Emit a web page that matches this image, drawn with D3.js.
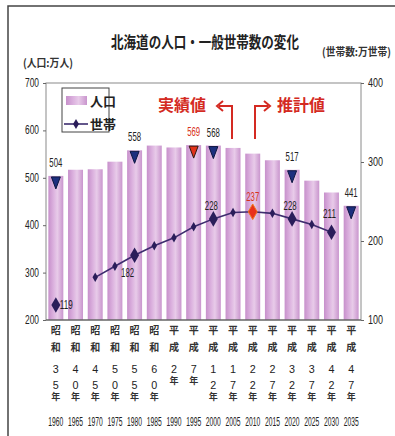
<!DOCTYPE html>
<html><head><meta charset="utf-8">
<script src="https://cdn.jsdelivr.net/npm/d3@7/dist/d3.min.js"></script>
<style>
body{margin:0;background:#fff;}
svg{display:block;}
</style></head>
<body><svg id="c" width="395" height="436"></svg>
<script>
// ---- data ----
const years = [1960,1965,1970,1975,1980,1985,1990,1995,2000,2005,2010,2015,2020,2025,2030,2035];
const population = [504,517,518,534,558,568,564,569,568,563,551,537,517,494,469,441];
const households = [119,null,154,168,182,194,204,218,228,236,237,235,228,221,211,null];
const eraNames = ['昭和','昭和','昭和','昭和','昭和','昭和','平成','平成','平成','平成','平成','平成','平成','平成','平成','平成'];
const eraYears = ['35','40','45','50','55','60','2','7','12','17','22','27','32','37','42','47'];
const popMarkYears = [1960,1980,1995,2000,2020,2035];
const popRedYear = 1995;
const hhBigYears = [1960,1980,2000,2010,2020,2030];
const hhLabelYears = [1960,1980,2000,2010,2020,2030];
const hhRedYear = 2010;
const leftTicks = [200,300,400,500,600,700];
const rightTicks = [100,200,300,400];

// ---- setup ----
const svg = d3.select('#c');
const NUM = '"Liberation Sans Narrow","Liberation Sans","DejaVu Sans Condensed",sans-serif';
const CJK = '"Noto Sans CJK JP","Noto Sans CJK SC",sans-serif';
const L = 46, R = 361, T = 83, B = 320;
const x = d3.scaleBand().domain(years).range([L, R]).paddingInner(0.24).paddingOuter(0.12);
const yL = d3.scaleLinear().domain([200,700]).range([B, T]);
const yR = d3.scaleLinear().domain([100,400]).range([B, T]);
const cx = d => x(d) + x.bandwidth()/2;

// condensed text helper: squeezes text horizontally to a target width
function ctext(parent, px, py, str, opt) {
  const t = parent.append('text').attr('font-family', opt.font || NUM).attr('font-size', opt.size || 12)
    .attr('font-weight', opt.weight || 'normal').attr('fill', opt.fill || '#222')
    .attr('text-anchor', opt.anchor || 'start').text(str);
  const len = t.node().getComputedTextLength() || 1;
  const s = Math.min(1, opt.width / len);
  t.attr('transform', `translate(${px},${py}) scale(${s},1)`);
  return t;
}

// outer frame
svg.append('path').attr('d','M8,436 L8,6 L395,6').attr('fill','none').attr('stroke','#444').attr('stroke-width',1.5);

// gradient
const defs = svg.append('defs');
const g = defs.append('linearGradient').attr('id','bar').attr('x1','0').attr('x2','1').attr('y1','0').attr('y2','0');
g.append('stop').attr('offset','0').attr('stop-color','#c790cb');
g.append('stop').attr('offset','0.35').attr('stop-color','#dcb2df');
g.append('stop').attr('offset','0.6').attr('stop-color','#e8cbe9');
g.append('stop').attr('offset','1').attr('stop-color','#c995cd');

// titles
ctext(svg, 205, 48, '北海道の人口・一般世帯数の変化', {font:CJK, size:16, weight:'bold', width:188, anchor:'middle'});
ctext(svg, 23, 67, '(人口:万人)', {font:CJK, size:11, weight:'bold', width:50, fill:'#333'});
ctext(svg, 322, 56, '(世帯数:万世帯)', {font:CJK, size:11, weight:'bold', width:69, fill:'#333'});

// bars
svg.append('g').selectAll('rect').data(years).join('rect')
  .attr('x', d => x(d)).attr('width', x.bandwidth())
  .attr('y', (d,i) => yL(population[i])).attr('height', (d,i) => B - yL(population[i]))
  .attr('fill','url(#bar)');

// plot border
svg.append('rect').attr('x',L).attr('y',T).attr('width',R-L).attr('height',B-T)
  .attr('fill','none').attr('stroke','#8a8a8a').attr('stroke-width',1);
svg.append('line').attr('x1',L).attr('x2',R).attr('y1',B).attr('y2',B).attr('stroke','#555').attr('stroke-width',1.2);

// axes (ticks via d3 axes, labels condensed)
const axL = svg.append('g').attr('transform',`translate(${L},0)`)
  .call(d3.axisLeft(yL).tickValues(leftTicks).tickSize(3).tickFormat(''));
const axR = svg.append('g').attr('transform',`translate(${R},0)`)
  .call(d3.axisRight(yR).tickValues(rightTicks).tickSize(3).tickFormat(''));
[axL, axR].forEach(a => { a.select('.domain').remove(); a.selectAll('line').attr('stroke','#666'); });
const axLabL = svg.append('g');
leftTicks.forEach(v => ctext(axLabL, 39, yL(v) + 4, d3.format('d')(v), {size:12, width:14, anchor:'end'}));
const axLabR = svg.append('g');
rightTicks.forEach(v => ctext(axLabR, 368, yR(v) + 4, d3.format('d')(v), {size:12, width:15}));

// triangles on bars
const tri = d => {
  const xc = cx(d), yt = yL(population[years.indexOf(d)]) + 1;
  return `M${xc-4.5},${yt} L${xc+4.5},${yt} L${xc},${yt+12} Z`;
};
svg.append('g').selectAll('path').data(popMarkYears).join('path')
  .attr('d', tri)
  .attr('fill', d => d === popRedYear ? '#e2321a' : '#1d2f7e')
  .attr('stroke', d => d === popRedYear ? '#2a1a10' : '#0d1640').attr('stroke-width',1);
const popLab = svg.append('g');
popMarkYears.forEach(d => ctext(popLab, cx(d), yL(population[years.indexOf(d)]) - 9, String(population[years.indexOf(d)]),
  {size:12, width:13, anchor:'middle', fill: d === popRedYear ? '#d8321a' : '#222'}));

// household line
const hhPts = years.map((d,i) => ({year:d, v:households[i]}));
const line = d3.line().defined(d => d.v != null && d.year >= 1970).x(d => cx(d.year)).y(d => yR(d.v));
svg.append('path').datum(hhPts).attr('d', line).attr('fill','none').attr('stroke','#3d2c6e').attr('stroke-width',1.6);
svg.append('g').selectAll('path').data(hhPts.filter(d => d.v != null)).join('path')
  .attr('transform', d => `translate(${cx(d.year)},${yR(d.v)})`)
  .attr('d', d => d3.symbol(d3.symbolDiamond, hhBigYears.includes(d.year) ? 70 : 26)())
  .attr('fill', d => d.year === hhRedYear ? '#e8301c' : '#2a1d5a')
  .attr('stroke', d => d.year === hhRedYear ? '#f07a20' : 'none');
const hhOff = {1960:[4,4,'start'],1980:[-7,22,'middle'],2000:[-2,-9,'middle'],2010:[0,-11,'middle'],2020:[-2,-9,'middle'],2030:[-2,-14,'middle']};
const hhLab = svg.append('g');
hhLabelYears.forEach(d => ctext(hhLab, cx(d) + hhOff[d][0], yR(households[years.indexOf(d)]) + hhOff[d][1],
  String(households[years.indexOf(d)]), {size:12, width:13, anchor:hhOff[d][2], fill: d === hhRedYear ? '#d8321a' : '#222'}));

// legend
const lg = svg.append('g');
lg.append('rect').attr('x',62).attr('y',88).attr('width',47).attr('height',44).attr('fill','#fff').attr('stroke','#444').attr('stroke-width',1);
lg.append('rect').attr('x',66).attr('y',96).attr('width',21).attr('height',9).attr('fill','url(#bar)');
lg.append('text').attr('x',90).attr('y',106).attr('font-family',CJK).attr('font-size',13).attr('font-weight','bold').attr('fill','#222').text('人口');
lg.append('line').attr('x1',64).attr('x2',88).attr('y1',124).attr('y2',124).attr('stroke','#3d2c6e').attr('stroke-width',1.6);
lg.append('path').attr('transform','translate(76,124)').attr('d',d3.symbol(d3.symbolDiamond,30)()).attr('fill','#2a1d5a');
lg.append('text').attr('x',90).attr('y',129).attr('font-family',CJK).attr('font-size',13).attr('font-weight','bold').attr('fill','#222').text('世帯');

// 実績値 / 推計値 annotations
const red = '#d42a22';
ctext(svg, 158, 111, '実績値', {font:CJK, size:16, weight:'bold', width:48, fill:red});
ctext(svg, 277, 111, '推計値', {font:CJK, size:16, weight:'bold', width:48, fill:red});
svg.append('path').attr('d','M232,139 L232,106 L219,106').attr('fill','none').attr('stroke',red).attr('stroke-width',2);
svg.append('path').attr('d','M223,101 L217,106 L223,111').attr('fill','none').attr('stroke',red).attr('stroke-width',2);
svg.append('path').attr('d','M255,139 L255,106 L268,106').attr('fill','none').attr('stroke',red).attr('stroke-width',2);
svg.append('path').attr('d','M264,101 L270,106 L264,111').attr('fill','none').attr('stroke',red).attr('stroke-width',2);

// x labels (vertical Japanese)
const xl = svg.append('g');
years.forEach((d,i) => {
  const gx = xl.append('g').attr('transform', `translate(${cx(d)},0)`);
  gx.append('text').attr('y',334).attr('text-anchor','middle').attr('font-family',CJK).attr('font-size',10).attr('font-weight','bold').attr('fill','#333').text(eraNames[i][0]);
  gx.append('text').attr('y',351).attr('text-anchor','middle').attr('font-family',CJK).attr('font-size',10).attr('font-weight','bold').attr('fill','#333').text(eraNames[i][1]);
  const s = eraYears[i];
  s.split('').forEach((ch,k) => {
    ctext(gx, 0, 373 + k*16, ch, {size:11, width:6, anchor:'middle'});
  });
  gx.append('text').attr('y', s.length === 1 ? 384 : 400).attr('text-anchor','middle').attr('font-family',CJK).attr('font-size',9).attr('font-weight','bold').attr('fill','#333').text('年');
  ctext(gx, 0, 426, String(d), {size:12, width:15, anchor:'middle'});
});
</script></body></html>
